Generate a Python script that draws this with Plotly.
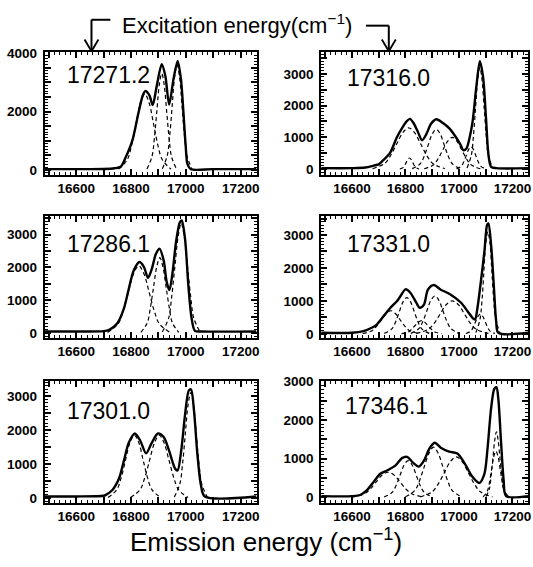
import plotly.graph_objects as go

# ---------------- data ----------------
LABELS = ["17271.2", "17316.0", "17286.1", "17331.0", "17301.0", "17346.1"]

X_TICKVALS = [16500, 16600, 16700, 16800, 16900, 17000, 17100, 17200]
X_TICKTEXT = ["", "16600", "", "16800", "", "17000", "", "17200"]

# Panel 1 : 17271.2
P1_X = [16485, 16600, 16700, 16740, 16762, 16780, 16804, 16828, 16843, 16852, 16867, 16879, 16894, 16912,
        16925, 16939, 16955, 16970, 16982, 16991, 16999, 17006, 17018, 17100, 17258]
P1_Y = [30, 30, 35, 60, 111, 426, 985, 1994, 2555, 2700, 2555, 2218, 2890, 3620,
        3227, 2240, 3115, 3731, 3115, 1994, 874, 200, 30, 30, 30]
P1_C1_X = [16754, 16786, 16802, 16818, 16834, 16850, 16866, 16882, 16898, 16914, 16946]
P1_C1_Y = [29, 351, 845, 1578, 2293, 2600, 2293, 1578, 845, 351, 29]
P1_C2_X = [16858, 16876, 16885, 16894, 16903, 16912, 16921, 16930, 16939, 16948, 16966]
P1_C2_Y = [36, 446, 1073, 2003, 2911, 3300, 2911, 2003, 1073, 446, 36]
P1_C3_X = [16914, 16932, 16941, 16950, 16959, 16968, 16977, 16986, 16995, 17004, 17022]
P1_C3_Y = [40, 486, 1170, 2185, 3175, 3600, 3175, 2185, 1170, 486, 40]

# Panel 2 : 17316.0
P2_X = [16485, 16600, 16650, 16681, 16700, 16712, 16743, 16768, 16790, 16805, 16817, 16830, 16845, 16862,
        16878, 16895, 16915, 16940, 16963, 16985, 17005, 17016, 17028, 17040, 17051, 17065, 17078, 17090,
        17101, 17110, 17120, 17140, 17258]
P2_Y = [30, 30, 50, 110, 150, 238, 520, 1003, 1330, 1510, 1580, 1450, 1200, 907,
        1100, 1420, 1568, 1450, 1289, 1050, 780, 598, 650, 1000, 1500, 2600, 3400, 2900,
        1603, 465, 72, 30, 30]
P2_C1_X = [16677, 16722, 16744, 16767, 16790, 16812, 16834, 16857, 16880, 16902, 16947]
P2_C1_Y = [14, 176, 423, 789, 1147, 1300, 1147, 789, 423, 176, 14]
P2_C2_X = [16779, 16791, 16797, 16803, 16809, 16815, 16821, 16827, 16833, 16839, 16851]
P2_C2_Y = [4, 47, 114, 212, 309, 350, 309, 212, 114, 47, 4]
P2_C3_X = [16825, 16855, 16870, 16885, 16900, 16915, 16930, 16945, 16960, 16975, 17005]
P2_C3_Y = [14, 169, 406, 759, 1103, 1250, 1103, 759, 406, 169, 14]
P2_C4_X = [16870, 16905, 16922, 16940, 16958, 16975, 16992, 17010, 17028, 17045, 17080]
P2_C4_Y = [11, 135, 325, 607, 882, 1000, 882, 607, 325, 135, 11]
P2_C5_X = [16991, 17009, 17018, 17027, 17036, 17045, 17054, 17063, 17072, 17081, 17099]
P2_C5_Y = [8, 95, 228, 425, 617, 700, 617, 425, 228, 95, 8]
P2_C6_X = [17030, 17046, 17054, 17062, 17070, 17078, 17086, 17094, 17102, 17110, 17126]
P2_C6_Y = [35, 432, 1040, 1942, 2822, 3200, 2822, 1942, 1040, 432, 35]

# Panel 3 : 17286.1
P3_X = [16485, 16600, 16700, 16720, 16750, 16774, 16792, 16810, 16831, 16847, 16862, 16876, 16891, 16904,
        16919, 16930, 16940, 16951, 16964, 16978, 16985, 16997, 17009, 17021, 17033, 17060, 17258]
P3_Y = [50, 50, 60, 100, 302, 755, 1360, 1913, 2165, 2014, 1682, 1964, 2417, 2568,
        2215, 1561, 1309, 1813, 2769, 3373, 3430, 2870, 1460, 453, 70, 50, 50]
P3_C1_X = [16714, 16752, 16771, 16790, 16809, 16828, 16847, 16866, 16885, 16904, 16942]
P3_C1_Y = [23, 277, 666, 1244, 1808, 2050, 1808, 1244, 666, 277, 23]
P3_C2_X = [16836, 16859, 16870, 16882, 16894, 16905, 16916, 16928, 16940, 16951, 16974]
P3_C2_Y = [25, 310, 748, 1396, 2029, 2300, 2029, 1396, 748, 310, 25]
P3_C3_X = [16914, 16937, 16948, 16960, 16972, 16983, 16994, 17006, 17018, 17029, 17052]
P3_C3_Y = [37, 452, 1089, 2033, 2955, 3350, 2955, 2033, 1089, 452, 37]

# Panel 4 : 17331.0
P4_X = [16485, 16600, 16643, 16668, 16693, 16718, 16743, 16768, 16781, 16800, 16819, 16841, 16853, 16869,
        16884, 16906, 16932, 16965, 17007, 17032, 17051, 17060, 17069, 17082, 17095, 17105, 17110, 17120,
        17130, 17139, 17147, 17258]
P4_Y = [30, 30, 80, 160, 280, 534, 785, 987, 1138, 1350, 1239, 936, 790, 886,
        1339, 1480, 1339, 1210, 950, 685, 480, 433, 785, 1600, 2497, 3303, 3350, 2700,
        1490, 380, 30, 30]
P4_C1_X = [16640, 16675, 16692, 16710, 16728, 16745, 16762, 16780, 16798, 16815, 16850]
P4_C1_Y = [8, 95, 228, 425, 617, 700, 617, 425, 228, 95, 8]
P4_C2_X = [16721, 16749, 16763, 16777, 16791, 16805, 16819, 16833, 16847, 16861, 16889]
P4_C2_Y = [12, 149, 358, 668, 970, 1100, 970, 668, 358, 149, 12]
P4_C3_X = [16785, 16810, 16822, 16835, 16848, 16860, 16872, 16885, 16898, 16910, 16935]
P4_C3_Y = [4, 54, 130, 243, 353, 400, 353, 243, 130, 54, 4]
P4_C4_X = [16820, 16850, 16865, 16880, 16895, 16910, 16925, 16940, 16955, 16970, 17000]
P4_C4_Y = [13, 155, 374, 698, 1014, 1150, 1014, 698, 374, 155, 13]
P4_C5_X = [16840, 16885, 16908, 16930, 16952, 16975, 16998, 17020, 17042, 17065, 17110]
P4_C5_Y = [11, 135, 325, 607, 882, 1000, 882, 607, 325, 135, 11]
P4_C6_X = [17026, 17044, 17053, 17062, 17071, 17080, 17089, 17098, 17107, 17116, 17134]
P4_C6_Y = [7, 81, 195, 364, 529, 600, 529, 364, 195, 81, 7]
P4_C7_X = [17063, 17078, 17086, 17093, 17100, 17108, 17116, 17123, 17130, 17138, 17153]
P4_C7_Y = [34, 419, 1008, 1882, 2734, 3100, 2734, 1882, 1008, 419, 34]

# Panel 5 : 17301.0
P5_X = [16485, 16600, 16700, 16708, 16732, 16756, 16774, 16792, 16814, 16834, 16855, 16874, 16898, 16919,
        16939, 16961, 16970, 16983, 16997, 17011, 17019, 17030, 17042, 17055, 17069, 17258]
P5_Y = [50, 50, 70, 96, 240, 575, 1102, 1630, 1898, 1677, 1313, 1600, 1898, 1792,
        1390, 863, 815, 1390, 2444, 3163, 3190, 2540, 1294, 383, 50, 50]
P5_C1_X = [16716, 16748, 16764, 16780, 16796, 16812, 16828, 16844, 16860, 16876, 16908]
P5_C1_Y = [20, 250, 601, 1123, 1632, 1850, 1632, 1123, 601, 250, 20]
P5_C2_X = [16798, 16833, 16850, 16868, 16886, 16903, 16920, 16938, 16956, 16973, 17008]
P5_C2_Y = [20, 250, 601, 1123, 1632, 1850, 1632, 1123, 601, 250, 20]
P5_C3_X = [16958, 16978, 16988, 16998, 17008, 17018, 17028, 17038, 17048, 17058, 17078]
P5_C3_Y = [34, 419, 1008, 1882, 2734, 3100, 2734, 1882, 1008, 419, 34]

# Panel 6 : 17346.1
P6_X = [16485, 16600, 16631, 16656, 16681, 16706, 16731, 16762, 16787, 16806, 16827, 16850, 16869, 16888,
        16909, 16932, 16963, 16994, 17019, 17051, 17076, 17095, 17107, 17120, 17132, 17140, 17147, 17157,
        17167, 17176, 17258]
P6_Y = [30, 30, 60, 186, 400, 610, 695, 822, 1017, 1050, 907, 797, 949, 1246,
        1415, 1288, 1186, 1136, 907, 525, 373, 610, 1288, 2305, 2814, 2856, 2560, 1458,
        440, 34, 30]
P6_C1_X = [16600, 16645, 16668, 16690, 16712, 16735, 16758, 16780, 16802, 16825, 16870]
P6_C1_Y = [7, 88, 211, 395, 573, 650, 573, 395, 211, 88, 7]
P6_C2_X = [16720, 16750, 16765, 16780, 16795, 16810, 16825, 16840, 16855, 16870, 16900]
P6_C2_Y = [10, 128, 309, 577, 838, 950, 838, 577, 309, 128, 10]
P6_C3_X = [16800, 16835, 16852, 16870, 16888, 16905, 16922, 16940, 16958, 16975, 17010]
P6_C3_Y = [14, 176, 423, 789, 1147, 1300, 1147, 789, 423, 176, 14]
P6_C4_X = [16855, 16900, 16922, 16945, 16968, 16990, 17012, 17035, 17058, 17080, 17125]
P6_C4_Y = [12, 142, 341, 637, 926, 1050, 926, 637, 341, 142, 12]
P6_C5_X = [17101, 17114, 17120, 17127, 17134, 17140, 17146, 17153, 17160, 17166, 17179]
P6_C5_Y = [19, 230, 553, 1032, 1499, 1700, 1499, 1032, 553, 230, 19]
P6_C6_X = [17090, 17106, 17114, 17122, 17130, 17138, 17146, 17154, 17162, 17170, 17186]
P6_C6_Y = [13, 162, 390, 728, 1058, 1200, 1058, 728, 390, 162, 13]

Y_RANGES = [[-170, 4030], [-185, 3680], [-150, 3560], [-130, 3570], [-145, 3430], [-150, 3010]]
Y_LABEL_STEP = [2000, 1000, 1000, 1000, 1000, 1000]

SOLIDS = [(P1_X, P1_Y), (P2_X, P2_Y), (P3_X, P3_Y), (P4_X, P4_Y), (P5_X, P5_Y), (P6_X, P6_Y)]
COMPONENTS = [
    [(P1_C1_X, P1_C1_Y), (P1_C2_X, P1_C2_Y), (P1_C3_X, P1_C3_Y)],
    [(P2_C1_X, P2_C1_Y), (P2_C2_X, P2_C2_Y), (P2_C3_X, P2_C3_Y), (P2_C4_X, P2_C4_Y),
     (P2_C5_X, P2_C5_Y), (P2_C6_X, P2_C6_Y)],
    [(P3_C1_X, P3_C1_Y), (P3_C2_X, P3_C2_Y), (P3_C3_X, P3_C3_Y)],
    [(P4_C1_X, P4_C1_Y), (P4_C2_X, P4_C2_Y), (P4_C3_X, P4_C3_Y), (P4_C4_X, P4_C4_Y),
     (P4_C5_X, P4_C5_Y), (P4_C6_X, P4_C6_Y), (P4_C7_X, P4_C7_Y)],
    [(P5_C1_X, P5_C1_Y), (P5_C2_X, P5_C2_Y), (P5_C3_X, P5_C3_Y)],
    [(P6_C1_X, P6_C1_Y), (P6_C2_X, P6_C2_Y), (P6_C3_X, P6_C3_Y), (P6_C4_X, P6_C4_Y),
     (P6_C5_X, P6_C5_Y), (P6_C6_X, P6_C6_Y)],
]

# ---------------- layout geometry ----------------
W, H = 533, 567
COL_PX = [(45, 258), (323, 531)]
ROW_PX = [(46, 171), (213, 337), (381, 505)]
LABEL_POS = [(65, 69), (347, 72), (65, 241), (347, 241), (65, 411), (345, 406)]

FONT = "Liberation Sans, Arial, Helvetica, sans-serif"

fig = go.Figure()
layout = dict(
    width=W, height=H, margin=dict(l=0, r=0, t=0, b=0),
    paper_bgcolor="white", plot_bgcolor="white", showlegend=False,
    font=dict(family=FONT, color="black"),
)

for i in range(6):
    r, c = divmod(i, 2)
    n = i + 1
    xa = "x" if n == 1 else f"x{n}"
    ya = "y" if n == 1 else f"y{n}"
    x0, x1 = COL_PX[c]
    y0, y1 = ROW_PX[r]

    for cx, cy in COMPONENTS[i]:
        fig.add_trace(go.Scatter(x=cx, y=cy, mode="lines", xaxis=xa, yaxis=ya,
                                 line=dict(color="black", width=1.2, dash="4px,3px", shape="spline"),
                                 hoverinfo="skip"))
    sx, sy = SOLIDS[i]
    fig.add_trace(go.Scatter(x=sx, y=sy, mode="lines", xaxis=xa, yaxis=ya,
                             line=dict(color="black", width=2.4, shape="spline", smoothing=0.8),
                             hoverinfo="skip"))

    ymax = Y_RANGES[i][1]
    yt = list(range(0, int(ymax) + 1, 500))
    ytt = [str(v) if v % Y_LABEL_STEP[i] == 0 else "" for v in yt]

    common = dict(showline=True, linecolor="black", linewidth=2, mirror="allticks",
                  ticks="inside", ticklen=6, tickwidth=1.5, tickcolor="black",
                  showgrid=False, zeroline=False,
                  tickfont=dict(family=FONT, size=13.5, color="black", weight="bold"))
    layout["xaxis" if n == 1 else f"xaxis{n}"] = dict(
        common, domain=[x0 / W, x1 / W], range=[16485, 17258], anchor=ya,
        tickmode="array", tickvals=X_TICKVALS, ticktext=X_TICKTEXT,
        minor=dict(tickmode="linear", tick0=16500, dtick=20, ticks="inside", ticklen=3,
                   tickwidth=1, tickcolor="black"),
    )
    layout["yaxis" if n == 1 else f"yaxis{n}"] = dict(
        common, domain=[1 - y1 / H, 1 - y0 / H], range=Y_RANGES[i], anchor=xa,
        tickmode="array", tickvals=yt, ticktext=ytt, ticklabelstandoff=3,
        minor=dict(tickmode="linear", tick0=0, dtick=100, ticks="inside", ticklen=3,
                   tickwidth=1, tickcolor="black"),
    )

fig.update_layout(**layout)

annotations = []
for i, (lx, ly) in enumerate(LABEL_POS):
    annotations.append(dict(text=LABELS[i], x=lx / W, y=1 - ly / H, xref="paper", yref="paper",
                            xanchor="left", yanchor="middle", showarrow=False,
                            font=dict(family=FONT, size=23, color="black")))
annotations.append(dict(text="Excitation energy(cm<sup>\u22121</sup>)", x=238 / W, y=1 - 17 / H,
                        xref="paper", yref="paper", xanchor="center", yanchor="middle",
                        showarrow=False, font=dict(family=FONT, size=22, color="black")))
annotations.append(dict(text="Emission energy (cm<sup>\u22121</sup>)", x=268 / W, y=1 - 543 / H,
                        xref="paper", yref="paper", xanchor="center", yanchor="middle",
                        showarrow=False, font=dict(family=FONT, size=26, color="black")))
fig.update_layout(annotations=annotations)


def P(px, py):
    return px / W, 1 - py / H


def seg(a, b, w=2):
    (xa_, ya_), (xb_, yb_) = P(*a), P(*b)
    return dict(type="line", xref="paper", yref="paper", x0=xa_, y0=ya_, x1=xb_, y1=yb_,
                line=dict(color="black", width=w))


shapes = [
    # left bracket + arrow
    seg((111, 13), (92, 13)), seg((92, 13), (92, 44)),
    seg((92, 45), (85, 33), 1.8), seg((92, 45), (99, 33), 1.8),
    # right bracket + arrow
    seg((368, 19), (391, 19)), seg((391, 19), (391, 44)),
    seg((391, 45), (384, 33), 1.8), seg((391, 45), (398, 33), 1.8),
]
fig.update_layout(shapes=shapes)

fig.write_html("out.html")
